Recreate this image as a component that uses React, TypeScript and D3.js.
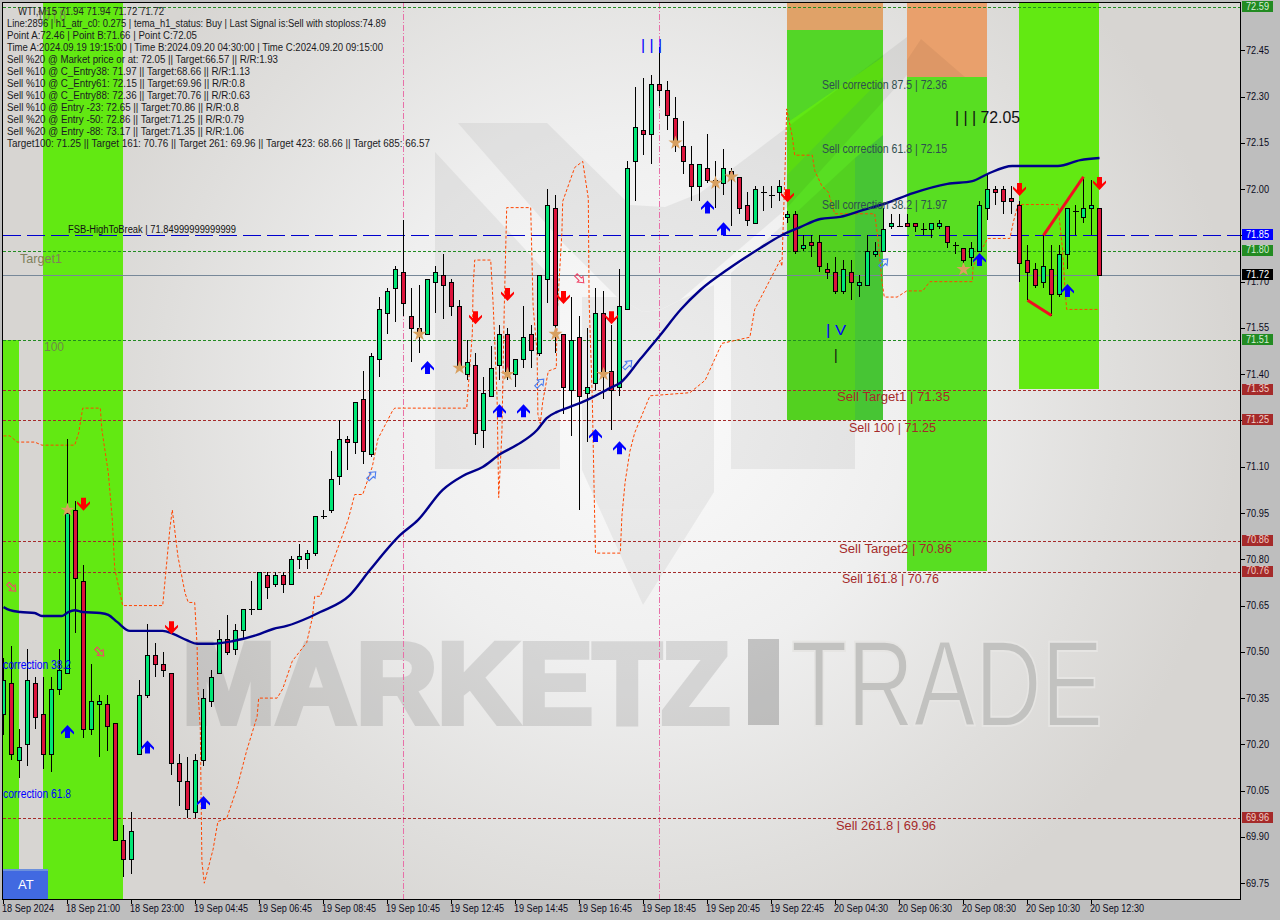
import React from "react";
import * as d3 from "d3";

const opens = [70.30,70.40,70.15,70.20,70.40,70.30,70.17,70.38,70.43,70.96,
70.73,70.25,70.33,70.33,70.27,69.89,69.83,70.17,70.36,70.49,
70.46,70.43,70.14,70.08,69.98,70.15,70.34,70.43,70.54,70.51,
70.57,70.64,70.64,70.75,70.72,70.75,70.72,70.80,70.80,70.82,
70.94,70.96,71.07,71.19,71.18,71.32,71.14,71.45,71.60,71.68,
71.73,71.59,71.55,71.53,71.70,71.72,71.70,71.62,71.40,71.43,
71.22,71.33,71.43,71.53,71.40,71.45,71.53,71.47,71.71,71.94,
71.53,71.35,71.52,71.34,71.37,71.60,71.41,71.36,71.61,72.09,
72.19,72.18,72.34,72.32,72.23,72.14,72.08,72.01,72.07,72.02,
72.02,72.06,72.04,71.95,71.89,71.99,71.98,71.99,71.91,71.92,
71.81,71.83,71.83,71.74,71.73,71.67,71.73,71.69,71.69,71.79,
71.80,71.88,71.88,71.89,71.89,71.87,71.87,71.88,71.88,71.82,
71.81,71.78,71.80,71.94,72.00,72.00,71.97,71.95,71.77,71.74,
71.70,71.74,71.66,71.79,71.93,71.91,71.94,71.94];
const highs = [70.48,70.52,70.25,70.51,70.42,70.42,70.42,70.51,71.19,70.99,
70.78,70.46,70.36,70.36,70.27,69.94,69.98,70.41,70.59,70.53,
70.50,70.43,70.17,70.16,70.17,70.38,70.44,70.57,70.62,70.59,
70.64,70.73,70.76,70.76,70.76,70.76,70.81,70.85,70.83,70.94,
70.96,71.15,71.25,71.20,71.31,71.41,71.47,71.65,71.68,71.75,
71.90,71.68,71.69,71.71,71.75,71.79,71.71,71.64,71.51,71.47,
71.39,71.49,71.56,71.55,71.45,71.62,71.56,71.72,72.00,71.98,
71.53,71.65,71.59,71.55,71.68,71.67,71.56,71.74,72.09,72.33,
72.36,72.37,72.46,72.35,72.30,72.22,72.14,72.08,72.18,72.09,
72.13,72.07,72.04,71.99,72.01,72.01,72.01,72.03,71.93,71.93,
71.85,71.85,71.85,71.76,71.78,71.77,71.77,71.72,71.85,71.83,
71.94,71.92,71.92,71.92,71.89,71.89,71.89,71.90,71.88,71.83,
71.81,71.83,71.96,72.05,72.01,72.01,72.01,71.96,71.82,71.76,
71.85,71.82,71.82,71.94,71.95,72.04,72.03,71.94];
const lows = [70.23,70.15,70.09,70.13,70.25,70.12,70.11,70.36,70.43,70.56,
70.22,70.23,70.16,70.18,69.89,69.77,69.78,70.17,70.35,70.42,
70.42,70.10,70.00,69.96,69.96,70.13,70.32,70.43,70.49,70.49,
70.54,70.62,70.64,70.67,70.71,70.69,70.72,70.77,70.77,70.81,
70.93,70.95,71.04,71.09,71.14,71.11,71.13,71.39,71.53,71.57,
71.59,71.44,71.47,71.53,71.60,71.58,71.59,71.42,71.38,71.17,
71.16,71.33,71.38,71.38,71.36,71.42,71.42,71.46,71.63,71.47,
71.27,71.20,70.96,71.18,71.35,71.32,71.22,71.33,71.61,71.96,
72.11,72.08,72.27,72.19,72.12,72.05,71.96,71.96,72.02,71.94,
71.98,71.88,71.92,71.88,71.89,71.93,71.94,71.96,71.89,71.79,
71.80,71.78,71.73,71.71,71.66,71.66,71.64,71.65,71.69,71.78,
71.80,71.87,71.88,71.88,71.86,71.85,71.84,71.87,71.81,71.79,
71.76,71.75,71.80,71.90,71.95,71.92,71.92,71.70,71.64,71.68,
71.68,71.59,71.65,71.74,71.85,71.89,71.85,71.72];
const closes = [70.41,70.17,70.19,70.41,70.29,70.17,70.38,70.44,70.95,70.74,
70.25,70.34,70.34,70.26,69.89,69.83,69.92,70.36,70.49,70.46,
70.44,70.14,70.08,69.99,70.15,70.35,70.42,70.54,70.50,70.57,
70.64,70.64,70.76,70.71,70.75,70.72,70.80,70.81,70.82,70.94,
70.94,71.06,71.19,71.18,71.31,71.15,71.46,71.61,71.67,71.74,
71.63,71.55,71.53,71.71,71.73,71.69,71.62,71.42,71.44,71.21,
71.34,71.42,71.53,71.41,71.45,71.52,71.48,71.72,71.95,71.56,
71.36,71.51,71.33,71.36,71.60,71.40,71.35,71.62,72.07,72.20,
72.18,72.34,72.32,72.24,72.15,72.09,72.01,72.08,72.03,72.03,
72.07,72.05,71.94,71.90,72.00,71.99,71.98,72.01,71.92,71.80,
71.82,71.82,71.75,71.73,71.67,71.74,71.70,71.70,71.80,71.80,
71.87,71.89,71.88,71.88,71.88,71.87,71.89,71.89,71.83,71.82,
71.77,71.81,71.95,72.00,71.99,71.96,71.96,71.76,71.73,71.69,
71.75,71.66,71.79,71.94,71.93,71.94,71.95,71.72];

const maBars = [0,0.8,2.1,3.9,4.8,7.3,8.1,8.9,9.9,12.1,13.1,14.2,15.8,19.9,21.2,22.9,24.2,26.1,28.7,31.7,33.7,35.4,38.3,39.6,43.3,45.8,49.6,51.8,54.9,57.4,59.9,62.1,64.2,66.7,67.9,69.2,70.4,72.9,75.8,77.1,79.6,82.1,84.6,87.1,90.6,94.6,97.1,99.6,102.1,104.6,107.4,110.4,113.7,118,121.1,123,126.1,131.8,134.6,137];
const maValues = [70.645,70.635,70.629,70.626,70.616,70.616,70.629,70.635,70.629,70.626,70.620,70.597,70.568,70.568,70.558,70.538,70.526,70.526,70.535,70.555,70.574,70.584,70.613,70.629,70.684,70.765,70.879,70.927,71.025,71.07,71.099,71.141,71.171,71.219,71.258,71.278,71.29,71.316,71.355,71.372,71.449,71.527,71.608,71.673,71.741,71.809,71.848,71.877,71.903,71.91,71.932,71.955,71.987,72.017,72.026,72.049,72.075,72.075,72.094,72.101];

const trailBars = [0,0.8,1.7,3.9,4.8,8.9,9.4,9.9,12.1,12.3,13.1,13.6,13.9,14.9,19.9,20.8,21.1,21.8,22.7,23.1,23.9,24.2,24.3,24.6,24.7,24.8,25.1,26.2,26.8,27.9,29.2,30.4,31.7,31.9,34.2,34.9,36.1,37.9,38.6,38.9,39.6,43.1,43.9,44.9,46.1,46.8,48.6,48.9,57.9,58.1,58.6,58.7,58.9,60.9,61.2,61.4,61.7,61.9,62.3,62.6,62.9,65.9,66.2,66.7,66.8,67.1,67.4,68.1,69.1,69.2,69.8,69.9,71.4,72.4,73.1,73.2,73.6,73.9,74,77.1,77.3,77.7,78.3,78.9,80.8,85.8,87.7,89.8,93.3,93.9,97.1,97.3,97.7,97.9,98.6,98.9,101.1,101.4,102.3,103.1,103.9,108.9,109.3,109.8,110.1,111.7,112.9,114.9,115.8,121.1,121.2,123,125.8,126.2,126.8,131.8,132.4,132.7,132.9,136.8];
const trailValues = [71.20,71.20,71.18,71.18,71.17,71.17,71.21,71.29,71.29,71.22,71.08,70.93,70.77,70.65,70.65,70.90,70.96,70.81,70.69,70.66,70.66,70.52,70.38,70.25,70.03,69.82,69.75,69.86,69.95,69.96,70.06,70.18,70.29,70.35,70.35,70.38,70.47,70.53,70.61,70.68,70.68,70.93,71.01,71.01,71.10,71.19,71.28,71.29,71.29,71.36,71.53,71.68,71.77,71.77,71.63,71.51,71.32,71.00,71.21,71.62,71.94,71.94,71.62,71.47,71.27,71.24,71.31,71.41,71.42,71.59,71.86,71.96,72.07,72.09,71.97,71.64,71.32,70.93,70.82,70.82,70.94,71.05,71.15,71.21,71.33,71.34,71.38,71.50,71.52,71.61,71.77,71.75,72.07,72.26,72.17,72.11,72.11,72.06,72.01,71.99,71.92,71.92,71.84,71.70,71.65,71.65,71.67,71.67,71.70,71.70,71.75,71.84,71.84,71.89,71.95,71.95,71.80,71.67,71.61,71.61];

const redDownBars = [10,21,59,63,70,76,98,127,137];
const redDownValues = [70.98,70.58,71.585,71.66,71.65,71.585,71.98,72.00,72.02];
const blueUpBars = [8,18,25,53,62,65,74,77,88,90,122,133];
const blueUpValues = [70.24,70.19,70.01,71.42,71.28,71.28,71.20,71.16,71.94,71.87,71.77,71.67];
const hollowRedBars = [1,12,72];
const hollowRedValues = [70.71,70.50,71.71];
const hollowBlueBars = [46,67,78,110];
const hollowBlueValues = [71.07,71.37,71.43,71.76];
const starBars = [8,52,57,63,69,75,84,89,91,120];
const starValues = [70.96,71.53,71.42,71.40,71.53,71.40,72.15,72.02,72.04,71.74];

const priceTicks = [72.45,72.30,72.15,72.00,71.85,71.70,71.55,71.40,71.25,71.10,70.95,70.80,70.65,70.50,70.35,70.20,70.05,69.90,69.75];
const timeLabels = ["18 Sep 2024","18 Sep 21:00","18 Sep 23:00","19 Sep 04:45","19 Sep 06:45","19 Sep 08:45","19 Sep 10:45","19 Sep 12:45","19 Sep 14:45","19 Sep 16:45","19 Sep 18:45","19 Sep 20:45","19 Sep 22:45","20 Sep 04:30","20 Sep 06:30","20 Sep 08:30","20 Sep 10:30","20 Sep 12:30"];

const greenLevels = [72.59,71.80,71.51];
const brownLevels = [71.35,71.25,70.86,70.76,69.96];
const breakLevel = 71.85;
const lastPrice = 71.72;

const infoLines = [
"Line:2896 | h1_atr_c0: 0.275 | tema_h1_status: Buy | Last Signal is:Sell with stoploss:74.89",
"Point A:72.46 | Point B:71.66 | Point C:72.05",
"Time A:2024.09.19 19:15:00 | Time B:2024.09.20 04:30:00 | Time C:2024.09.20 09:15:00",
"Sell %20 @ Market price or at: 72.05 || Target:66.57 || R/R:1.93",
"Sell %10 @ C_Entry38: 71.97 || Target:68.66 || R/R:1.13",
"Sell %10 @ C_Entry61: 72.15 || Target:69.96 || R/R:0.8",
"Sell %10 @ C_Entry88: 72.36 || Target:70.76 || R/R:0.63",
"Sell %10 @ Entry -23: 72.65 || Target:70.86 || R/R:0.8",
"Sell %20 @ Entry -50: 72.86 || Target:71.25 || R/R:0.79",
"Sell %20 @ Entry -88: 73.17 || Target:71.35 || R/R:1.06",
"Target100: 71.25 || Target 161: 70.76 || Target 261: 69.96 || Target 423: 68.66 || Target 685: 66.57",
];
const infoWidths = [379,190,376,271,243,238,243,232,237,237,423];

const x = d3.scaleLinear().domain([0, 137]).range([3.5, 1099.5]);
const y = d3.scaleLinear().domain([72.59, 69.75]).range([7.1, 883.2]);
const FONT = "'Liberation Sans', Arial, sans-serif";
const GREEN = "#62E912";
const MID = "#58DE22";
const ORANGE = "#E9A06C";

const maLine = d3.line<number>().x((_, i) => x(maBars[i])).y((v) => y(v)).curve(d3.curveMonotoneX);
const trailLine = d3.line<number>().x((_, i) => x(trailBars[i])).y((v) => y(v));
const star = d3.symbol().type(d3.symbolStar).size(62)() as string;

const UP = "M0,-7 L6.5,0 L6.5,2.5 L2.5,-1 L2.5,6 L-2.5,6 L-2.5,-1 L-6.5,2.5 L-6.5,0 Z";
const DOWN = "M0,7 L6.5,0 L6.5,-2.5 L2.5,1 L2.5,-6 L-2.5,-6 L-2.5,1 L-6.5,-2.5 L-6.5,0 Z";
const HOLLOW = "M0,-6 L4,-1 L1.7,-1 L1.7,5 L-1.7,5 L-1.7,-1 L-4,-1 Z";

function Txt({ tx, cy, w, size = 10, fill = "#111", weight, family = FONT, children }: any) {
  return (
    <text x={tx} y={cy + size * 0.35} fontSize={size} fill={fill} fontFamily={family} fontWeight={weight}
      textLength={w} lengthAdjust="spacingAndGlyphs">{children}</text>
  );
}

export default function App() {
  const tag = (v: number, bg: string, fg: string) => (
    <g key={`${v}-${bg}`}>
      <rect x={1242} y={Math.round(y(v)) - 6} width={31} height={11} fill={bg} />
      <Txt tx={1246} cy={y(v) - 1} w={23} fill={fg}>{v.toFixed(2)}</Txt>
    </g>
  );
  return (
    <svg width={1280} height={920} viewBox="0 0 1280 920"
      style={{ position: "fixed", left: 0, top: 0, display: "block" }}>
      <defs>
        <radialGradient id="bg" gradientUnits="userSpaceOnUse" cx={640} cy={400} r={600}>
          <stop offset="0" stopColor="#FBFBFB" />
          <stop offset="0.45" stopColor="#EFEFEF" />
          <stop offset="0.8" stopColor="#DFDEDC" />
          <stop offset="1" stopColor="#D7D5D2" />
        </radialGradient>
        <clipPath id="plot"><rect x={3} y={3} width={1237} height={896} /></clipPath>
      </defs>
      <rect x={0} y={0} width={1280} height={920} fill="#BEBEBE" />
      <rect x={3} y={3} width={1237} height={896} fill="url(#bg)" />

      <g clipPath="url(#plot)">
        {/* zones */}
        <rect x={3} y={340} width={16} height={559} fill={GREEN} />
        <rect x={43} y={3} width={80} height={896} fill={GREEN} />
        <rect x={787} y={3} width={96} height={27} fill="#E0A268" />
        <rect x={787} y={30} width={96} height={390} fill={MID} />
        <rect x={907} y={3} width={80} height={74} fill={ORANGE} />
        <rect x={907} y={77} width={80} height={494} fill={MID} />
        <rect x={1019} y={3} width={80} height={386} fill={GREEN} />
        <polygon points="787,30 883,30 883,57 787,123" fill="#2f9f50" opacity={0.12} />
        <polygon points="787,123 883,57 883,77 787,175" fill={GREEN} opacity={0.9} />
        <polygon points="855,158 883,135 883,420 855,420" fill="#2f9f50" opacity={0.4} />
        <polygon points="907,60 921,39 965,77 907,77" fill="#000" opacity={0.05} />

        {/* watermark */}
        <g fill="#000" opacity={0.05}>
          <polygon points="435,152 560,287 560,469 435,469" />
          <polygon points="582,297 617,297 643,312 660,310 680,300 714,285 714,492 643,605 582,470" />
          <polygon points="731,273 855,158 855,469 731,469" />
          <polygon points="458,123 547,123 630,205 665,207 700,193 907,37 907,75 785,210 680,300 660,310 643,312 617,297 563,243" />
        </g>
        <g opacity={0.1}>
          <text x={182} y={723} fontSize={115} fontWeight="bold" fontFamily={FONT} fill="#000" stroke="#000" strokeWidth={6}
            textLength={548} lengthAdjust="spacingAndGlyphs">MARKETZ</text>
        </g>
        <rect x={748} y={639} width={31} height={86} fill="#000" opacity={0.19} />
        <text x={791} y={726} fontSize={122} fontFamily={FONT} fill="#C2C2C0" stroke="#E6E5E3" strokeWidth={2}
          textLength={312} lengthAdjust="spacingAndGlyphs">TRADE</text>

        {/* vertical separators */}
        {[50, 82].map((b) => (
          <line key={b} x1={x(b)} x2={x(b)} y1={3} y2={899} stroke="#E870A8" strokeDasharray="6 2 1 2" />
        ))}

        {/* levels */}
        {greenLevels.map((v) => (
          <line key={v} x1={3} x2={1240} y1={Math.round(y(v)) + 0.5} y2={Math.round(y(v)) + 0.5} stroke="#228B22" strokeDasharray="3 2" />
        ))}
        {brownLevels.map((v) => (
          <line key={v} x1={3} x2={1240} y1={Math.round(y(v)) + 0.5} y2={Math.round(y(v)) + 0.5} stroke="#A52A2A" strokeDasharray="3 2" />
        ))}
        <line x1={3} x2={1240} y1={Math.round(y(breakLevel)) + 0.5} y2={Math.round(y(breakLevel)) + 0.5} stroke="#0000CD" strokeDasharray="18 6" />
        <line x1={3} x2={1240} y1={Math.round(y(lastPrice)) + 0.5} y2={Math.round(y(lastPrice)) + 0.5} stroke="#778899" />

        {/* trail */}
        <path d={trailLine(trailValues) as string} fill="none" stroke="#FF4500" strokeDasharray="3 2" />

        {/* candles */}
        <g shapeRendering="crispEdges">
          {opens.map((o, i) => {
            const c = closes[i];
            const cx = x(i);
            const top = Math.round(y(Math.max(o, c))) + 0.5;
            const bot = Math.round(y(Math.min(o, c))) + 0.5;
            return (
              <g key={i}>
                <line x1={cx} x2={cx} y1={y(highs[i])} y2={y(lows[i])} stroke="#000" />
                {o === c ? (
                  <line x1={cx - 3} x2={cx + 3} y1={top} y2={top} stroke="#000" />
                ) : (
                  <rect x={cx - 2} y={top} width={4} height={bot - top} fill={c > o ? "#00E676" : "#DC143C"} stroke="#000" />
                )}
              </g>
            );
          })}
        </g>

        {/* moving average */}
        <path d={maLine(maValues) as string} fill="none" stroke="#00008B" strokeWidth={2.4} />

        {/* swing lines */}
        <line x1={x(128)} x2={x(131)} y1={y(71.64)} y2={y(71.59)} stroke="#F01020" strokeWidth={3} />
        <line x1={x(130)} x2={x(135)} y1={y(71.85)} y2={y(72.04)} stroke="#F01020" strokeWidth={3} />

        {/* signals */}
        {starBars.map((b, i) => (
          <path key={b} d={star} transform={`translate(${x(b)},${y(starValues[i])})`} fill="#D8A060" />
        ))}
        {redDownBars.map((b, i) => (
          <path key={b} d={DOWN} transform={`translate(${x(b)},${y(redDownValues[i])})`} fill="#FF0000" />
        ))}
        {blueUpBars.map((b, i) => (
          <path key={b} d={UP} transform={`translate(${x(b)},${y(blueUpValues[i])})`} fill="#0000FF" />
        ))}
        {hollowRedBars.map((b, i) => (
          <path key={b} d={HOLLOW} transform={`translate(${x(b)},${y(hollowRedValues[i])}) rotate(135)`} fill="none" stroke="#F0486A" strokeWidth={1.1} />
        ))}
        {hollowBlueBars.map((b, i) => (
          <path key={b} d={HOLLOW} transform={`translate(${x(b)},${y(hollowBlueValues[i])}) rotate(45)`} fill="none" stroke="#4A7CF0" strokeWidth={1.1} />
        ))}

        {/* chart labels */}
        <Txt tx={3} cy={665} w={68} size={12} fill="#0000FF">correction 38.2</Txt>
        <Txt tx={3} cy={794} w={68} size={12} fill="#0000FF">correction 61.8</Txt>
        <Txt tx={822} cy={85} w={125} size={12} fill="#2F4F4F">Sell correction 87.5 | 72.36</Txt>
        <Txt tx={822} cy={149} w={125} size={12} fill="#2F4F4F">Sell correction 61.8 | 72.15</Txt>
        <Txt tx={822} cy={205} w={125} size={12} fill="#2F4F4F">Sell correction 38.2 | 71.97</Txt>
        <Txt tx={837} cy={397} w={113} size={12} fill="#A52A2A">Sell Target1 | 71.35</Txt>
        <Txt tx={849} cy={428} w={87} size={12} fill="#A52A2A">Sell 100 | 71.25</Txt>
        <Txt tx={839} cy={549} w={113} size={12} fill="#A52A2A">Sell Target2 | 70.86</Txt>
        <Txt tx={842} cy={579} w={97} size={12} fill="#A52A2A">Sell 161.8 | 70.76</Txt>
        <Txt tx={836} cy={826} w={100} size={12} fill="#A52A2A">Sell  261.8 | 69.96</Txt>
        <Txt tx={955} cy={117} w={65} size={16} fill="#111">| | | 72.05</Txt>
        <Txt tx={641} cy={45} w={21} size={14} fill="#0000FF">| | |</Txt>
        <Txt tx={826} cy={330} w={20} size={14} fill="#0000FF">| V</Txt>
        <Txt tx={834} cy={355} size={14} fill="#111">|</Txt>
        <Txt tx={20} cy={258} w={42} size={13} fill="#80805C">Target1</Txt>
        <Txt tx={44} cy={347} size={12} fill="#6E8A4A">100</Txt>
        <Txt tx={37} cy={15} w={29} size={14} fill="#7A8A50">10 | 8</Txt>
        <Txt tx={68} cy={229.5} w={168} fill="#111">FSB-HighToBreak | 71.84999999999999</Txt>

        <Txt tx={18} cy={11} w={146} fill="#222">WTI,M15  71.94 71.94 71.72 71.72</Txt>
        {infoLines.map((t, i) => (
          <Txt key={i} tx={7} cy={23.5 + i * 12} w={infoWidths[i]} fill="#1a1a22">{t}</Txt>
        ))}

        <rect x={3} y={869} width={45} height={30} fill="#4169E1" />
        <rect x={3} y={869} width={45} height={2} fill="#6C90DC" />
        <Txt tx={18} cy={884} size={13} fill="#fff">AT</Txt>
      </g>

      {/* frame */}
      <g fill="none" stroke="#000" shapeRendering="crispEdges">
        <path d="M2.5,899.5 L2.5,2.5 L1240.5,2.5 L1240.5,899.5 Z" />
      </g>

      {/* price axis */}
      {priceTicks.map((v) => (
        <g key={v}>
          <line x1={1241} x2={1245} y1={Math.round(y(v)) + 0.5} y2={Math.round(y(v)) + 0.5} stroke="#000" shapeRendering="crispEdges" />
          <Txt tx={1246} cy={y(v)} w={23} fill="#0a0a20">{v.toFixed(2)}</Txt>
        </g>
      ))}
      {tag(72.59, "#228B22", "#D6EED6")}
      {tag(71.85, "#0000FF", "#FFFFFF")}
      {tag(71.80, "#228B22", "#D6EED6")}
      {tag(71.72, "#000000", "#FFFFFF")}
      {tag(71.51, "#228B22", "#D6EED6")}
      {tag(71.35, "#A52A2A", "#F0D0C8")}
      {tag(71.25, "#A52A2A", "#F0D0C8")}
      {tag(70.86, "#A52A2A", "#F0D0C8")}
      {tag(70.76, "#A52A2A", "#F0D0C8")}
      {tag(69.96, "#A52A2A", "#F0D0C8")}

      {/* time axis */}
      {timeLabels.map((t, i) => {
        const b = i * 8;
        return (
          <g key={t}>
            <line x1={x(b)} x2={x(b)} y1={900} y2={904} stroke="#000" shapeRendering="crispEdges" />
            <Txt tx={x(b) - 1.5} cy={908.5} w={i === 0 ? 52 : 54} fill="#0a0a20">{t}</Txt>
          </g>
        );
      })}
    </svg>
  );
}
